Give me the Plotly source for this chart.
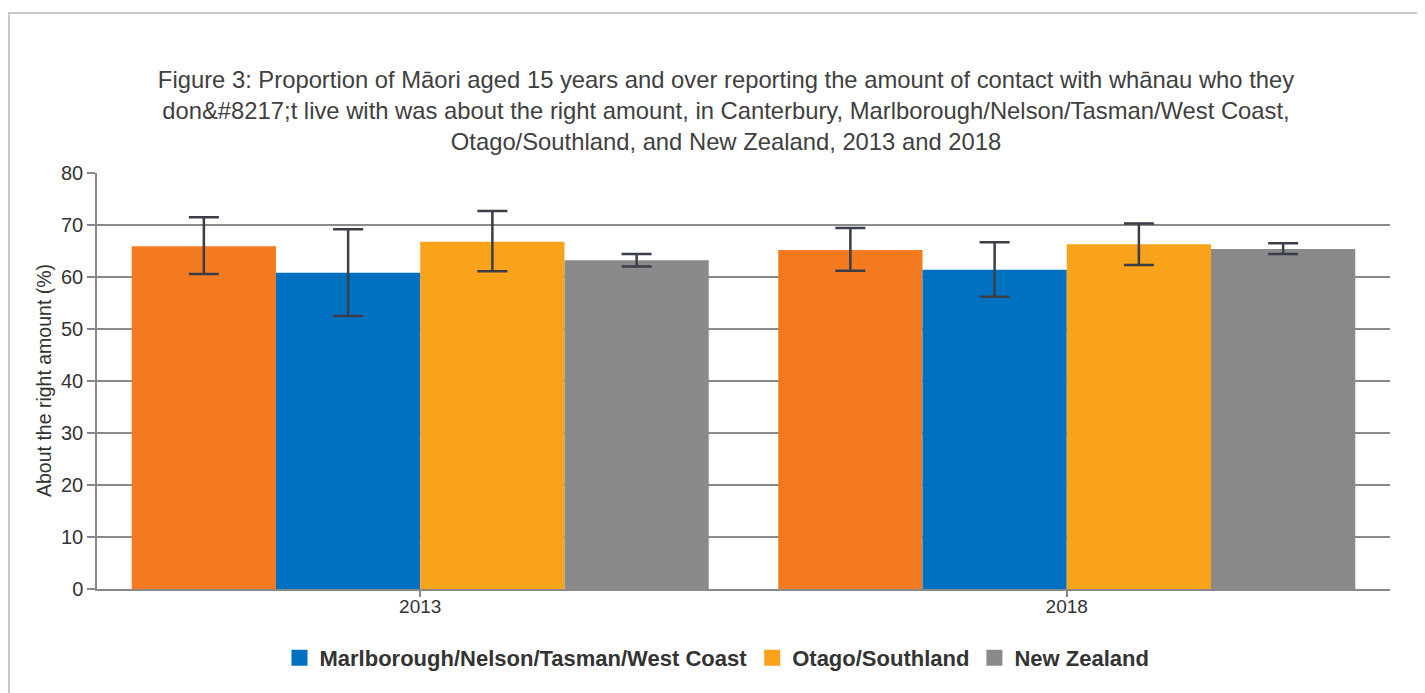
import plotly.graph_objects as go

years = ["2013", "2018"]
regions = ["Canterbury", "Marlborough/Nelson/Tasman/West Coast", "Otago/Southland", "New Zealand"]
colors = ["#F47A20", "#0070C0", "#F9A31A", "#8A8A8A"]
show_in_legend = [False, True, True, True]

values = {
    "Canterbury": [65.9, 65.2],
    "Marlborough/Nelson/Tasman/West Coast": [60.8, 61.4],
    "Otago/Southland": [66.8, 66.3],
    "New Zealand": [63.2, 65.4],
}
upper = {
    "Canterbury": [71.5, 69.4],
    "Marlborough/Nelson/Tasman/West Coast": [69.2, 66.7],
    "Otago/Southland": [72.7, 70.3],
    "New Zealand": [64.4, 66.5],
}
lower = {
    "Canterbury": [60.6, 61.2],
    "Marlborough/Nelson/Tasman/West Coast": [52.5, 56.2],
    "Otago/Southland": [61.1, 62.3],
    "New Zealand": [62.0, 64.4],
}

title_text = ("Figure 3: Proportion of Māori aged 15 years and over reporting the amount of contact with whānau who they<br>"
              "don&amp;#8217;t live with was about the right amount, in Canterbury, Marlborough/Nelson/Tasman/West Coast,<br>"
              "Otago/Southland, and New Zealand, 2013 and 2018")
y_title = "About the right amount (%)"

fig = go.Figure()
for name, col in zip(regions, colors):
    v = values[name]
    up = [u - x for u, x in zip(upper[name], v)]
    dn = [x - l for l, x in zip(lower[name], v)]
    fig.add_trace(go.Bar(
        x=years, y=v, name=name, marker=dict(color=col, line=dict(width=0)),
        error_y=dict(type="data", array=up, arrayminus=dn, color="#3a3e48", thickness=2.5, width=15),
        showlegend=False,
    ))
for name, col, sl in zip(regions, colors, show_in_legend):
    if sl:
        fig.add_trace(go.Scatter(x=[None], y=[None], mode="markers", name=name,
                                 marker=dict(symbol="square", size=16, color=col)))

OFF = 8  # page body margin
W, H = 1425 - OFF, 693 - OFF
L, T = 97 - OFF, 173 - OFF
R = W - (1390 - OFF)
B = H - (589 - OFF)
pw, ph = W - L - R, H - T - B

fig.update_layout(
    width=W, height=H,
    margin=dict(l=L, r=R, t=T, b=B),
    paper_bgcolor="white", plot_bgcolor="white",
    font=dict(family="Liberation Sans, Arial, sans-serif", color="#333333"),
    barmode="group", bargap=0.1075, bargroupgap=0,
    title=dict(text=title_text, xref="container", x=(726 - OFF) / W, xanchor="center",
               yref="container", y=1 - 80 / H, yanchor="top",
               font=dict(size=23.8, color="#404040", family="Liberation Sans, Arial, sans-serif")),
    legend=dict(orientation="h", xref="container", x=(717 - OFF) / W, xanchor="center",
                yref="container", y=1 - (658 - OFF) / H, yanchor="middle",
                font=dict(size=22, color="#333333", family="Liberation Sans, Arial, sans-serif", weight="bold"),
                bgcolor="rgba(0,0,0,0)"),
    xaxis=dict(type="category", showgrid=False, showline=True, linecolor="#888888", linewidth=1.5,
               ticks="outside", ticklen=6, tickcolor="#888888", tickwidth=1.5,
               ticklabelstandoff=-7,
               tickfont=dict(size=19, color="#333333")),
    yaxis=dict(range=[0, 80], dtick=10, showgrid=True, gridcolor="#8a8a8a", gridwidth=1.5,
               zeroline=False, showline=True, linecolor="#888888", linewidth=1.5,
               ticks="outside", ticklen=8, tickcolor="#888888", tickwidth=1.5,
               tickfont=dict(size=20, color="#333333")),
    annotations=[dict(text=y_title, textangle=-90, xref="paper", yref="paper",
                      x=(44 - 97) / pw, y=0.5, xanchor="center", yanchor="middle",
                      showarrow=False, font=dict(size=19.5, color="#333333"))],
    shapes=[dict(type="rect", xref="paper", yref="paper",
                 x0=(9 - 97) / pw, x1=(1445 - 97) / pw,
                 y0=-(720 - 589) / ph, y1=(589 - 13) / ph,
                 line=dict(color="#c8c8c8", width=2), fillcolor="rgba(0,0,0,0)", layer="below")],
)

fig.write_html("out.html")
